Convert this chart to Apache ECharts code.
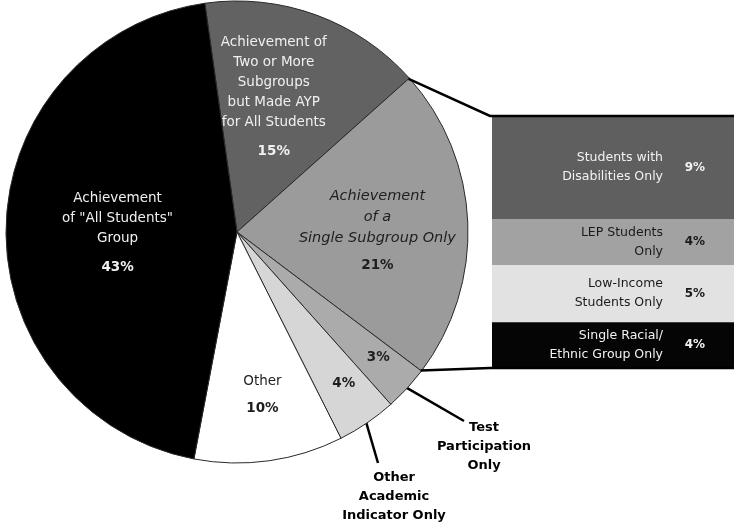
<!DOCTYPE html>
<html><head><meta charset="utf-8">
<script src="https://cdn.jsdelivr.net/npm/echarts@6/dist/echarts.min.js"></script>
<style>html,body{margin:0;padding:0;background:#fff}#c{width:734px;height:524px}</style>
</head><body><div id="c"></div>
<script>
// ---- data ----
const pieNames = ['Achievement of Two or More Subgroups but Made AYP for All Students',
  'Achievement of a Single Subgroup Only', 'Test Participation Only',
  'Other Academic Indicator Only', 'Other', 'Achievement of "All Students" Group'];
const pieInnerText = ['Achievement of\nTwo or More\nSubgroups\nbut Made AYP\nfor All Students',
  'Achievement\nof a\nSingle Subgroup Only', '', '', 'Other', 'Achievement\nof "All Students"\nGroup'];
const pieValues = [15, 21, 3, 4, 10, 43];
const pieOuterText = ['', '', 'Test\nParticipation\nOnly', 'Other\nAcademic\nIndicator Only', '', ''];

const barNames = ['Students with\nDisabilities Only', 'LEP Students\nOnly', 'Low-Income\nStudents Only', 'Single Racial/\nEthnic Group Only'];
const barValues = [9, 4, 5, 4];

// ---- styles / layout ----
const FONT = 'DejaVu Sans';
const pieColors = ['#626262', '#9b9b9b', '#ababab', '#d6d6d6', '#ffffff', '#000000'];
const pieTextStyle = ['w', 'di', 'd', 'd', 'd', 'w'];
const piePctStyle = ['wp', 'dp', 'dp', 'dp', 'dp', 'wp'];
const labelShift = [[-4, -19], [22, 7], [54, 45], [40, 54], [9, 49], [-1, 8]];
const barColors = ['#5f5f5f', '#a2a2a2', '#e2e2e2', '#050505'];
const barTextColors = ['#f2f2f2', '#1a1a1a', '#1a1a1a', '#f2f2f2'];
const CX = 237, CY = 232, R = 231, START = -8; // START: degrees clockwise from 12 o'clock
const GRID = {left: 492, right: 0, top: 116, bottom: 156};
const W = 734, H = 524;
const outerPos = {2: {x: 484, y: 418, lx: 464, ly: 421}, 3: {x: 394, y: 468, lx: 378, ly: 463}};

const total = pieValues.reduce((a, b) => a + b, 0);
const bounds = [START];
pieValues.forEach(v => bounds.push(bounds[bounds.length - 1] + v / total * 360));
function edge(deg, r) {
  const a = deg * Math.PI / 180;
  return [CX + r * Math.sin(a), CY - r * Math.cos(a)];
}

const rich = {
  w: {color: '#f0f0f0', fontSize: 13.5, lineHeight: 20, fontFamily: FONT},
  wp: {color: '#f0f0f0', fontSize: 13.5, fontWeight: 'bold', lineHeight: 38, fontFamily: FONT},
  d: {color: '#1e1e1e', fontSize: 13.5, lineHeight: 20, fontFamily: FONT},
  di: {color: '#1e1e1e', fontSize: 14.5, fontStyle: 'italic', lineHeight: 21, fontFamily: FONT},
  dp: {color: '#1e1e1e', fontSize: 13.5, fontWeight: 'bold', lineHeight: 34, fontFamily: FONT}
};

const pieData = pieValues.map((v, i) => ({
  value: v, name: pieNames[i],
  itemStyle: {color: pieColors[i]},
  label: {
    formatter: (pieInnerText[i] ? '{' + pieTextStyle[i] + '|' + pieInnerText[i] + '}\n' : '') +
      '{' + piePctStyle[i] + '|' + v + '%}'
  }
}));

const outerData = pieValues.map((v, i) => ({
  value: v, name: pieNames[i],
  label: {show: !!pieOuterText[i], formatter: pieOuterText[i]},
  labelLine: {show: !!pieOuterText[i]}
}));

const series = [
  {
    type: 'pie', center: [CX, CY], radius: R, startAngle: 90 - START, clockwise: true,
    avoidLabelOverlap: false, silent: true, animation: false,
    itemStyle: {borderColor: '#2a2a2a', borderWidth: 1},
    label: {show: true, position: 'inside', rich: rich},
    labelLine: {show: false},
    labelLayout: p => ({dx: labelShift[p.dataIndex][0], dy: labelShift[p.dataIndex][1]}),
    data: pieData
  },
  {
    type: 'pie', center: [CX, CY], radius: R, startAngle: 90 - START, clockwise: true,
    avoidLabelOverlap: false, silent: true, animation: false,
    itemStyle: {color: 'rgba(0,0,0,0)', borderWidth: 0},
    label: {show: true, position: 'outside', color: '#000', fontFamily: FONT, fontSize: 13,
      fontWeight: 'bold', lineHeight: 19, align: 'center'},
    labelLine: {show: true, length: 30, length2: 10, lineStyle: {color: '#000', width: 2.5}},
    labelLayout: p => {
      const o = outerPos[p.dataIndex];
      if (!o) return {};
      const mid = (bounds[p.dataIndex] + bounds[p.dataIndex + 1]) / 2;
      return {x: o.x, y: o.y, align: 'center', verticalAlign: 'top',
        labelLinePoints: [edge(mid, R - 2), [o.lx, o.ly]]};
    },
    data: outerData
  }
];

barValues.forEach((v, i) => {
  series.push({
    type: 'bar', stack: 'seg', name: barNames[i], barWidth: '100%', barGap: '-100%',
    silent: true, animation: false,
    itemStyle: {color: barColors[i]},
    label: {show: true, position: 'insideRight', distance: 71, formatter: '{a}',
      color: barTextColors[i], fontFamily: FONT, fontSize: 12.5, lineHeight: 19},
    data: [v]
  });
});
barValues.forEach((v, i) => {
  series.push({
    type: 'bar', stack: 'pct', name: 'pct' + i, barWidth: '100%', barGap: '-100%',
    silent: true, animation: false,
    itemStyle: {color: 'rgba(0,0,0,0)'},
    label: {show: true, position: 'insideRight', distance: 29, formatter: v + '%',
      color: barTextColors[i], fontFamily: FONT, fontSize: 12, fontWeight: 'bold'},
    data: [v]
  });
});

const barTotal = barValues.reduce((a, b) => a + b, 0);
const gTop = GRID.top, gBot = H - GRID.bottom, gLeft = GRID.left, gRight = W - GRID.right;
const pTop = edge(bounds[1], R - 1), pBot = edge(bounds[2], R - 1);

const chart = echarts.init(document.getElementById('c'), null, {renderer: 'canvas'});
chart.setOption({
  animation: false,
  backgroundColor: '#ffffff',
  grid: GRID,
  xAxis: {type: 'category', data: ['breakdown'], show: false},
  yAxis: {type: 'value', min: 0, max: barTotal, inverse: true, show: false},
  series: series,
  graphic: [
    {type: 'polyline', z: 100, silent: true, shape: {points: [pTop, [gLeft - 2, gTop], [gRight, gTop]]},
      style: {stroke: '#000', lineWidth: 2.5, fill: null}},
    {type: 'polyline', z: 100, silent: true, shape: {points: [pBot, [gLeft - 2, gBot], [gRight, gBot]]},
      style: {stroke: '#000', lineWidth: 2.5, fill: null}}
  ]
});
</script></body></html>
